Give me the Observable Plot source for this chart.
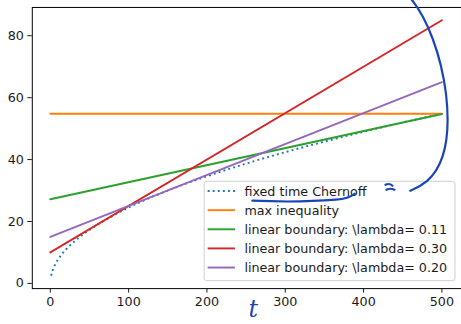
<!DOCTYPE html>
<html>
<head>
<meta charset="utf-8">
<script src="https://cdn.jsdelivr.net/npm/d3@7"></script>
<script src="https://cdn.jsdelivr.net/npm/@observablehq/plot@0.6"></script>
<style>
  html, body { margin: 0; padding: 0; background: #fff; }
  #chart { position: relative; width: 461px; height: 324px; overflow: hidden; }
</style>
</head>
<body>
<div id="chart"></div>
<script>
// ---- data ----
const tCurve   = [1, 3, 6, 10, 15, 20, 30, 40, 50, 65, 80, 100, 125, 150, 175, 200, 250, 300, 350, 400, 450, 500];
const chernoff = [2.45, 4.24, 6.0, 7.75, 9.49, 10.95, 13.4, 15.5, 17.3, 19.7, 21.9, 24.5, 27.4, 30.0, 32.4, 34.6, 38.7, 42.4, 45.8, 49.0, 52.0, 54.8];
const tEnds    = [0, 500];
const maxIneq  = [54.77, 54.77];
const lin011   = [27.2, 54.7];
const lin030   = [10.0, 85.0];
const lin020   = [15.0, 65.0];
const seriesNames = [
  "fixed time Chernoff",
  "max inequality",
  "linear boundary: \\lambda= 0.11",
  "linear boundary: \\lambda= 0.30",
  "linear boundary: \\lambda= 0.20"
];
const seriesColors = ["#1f77b4", "#ff7f0e", "#2ca02c", "#d62728", "#9467bd"];
const xTicks = [0, 100, 200, 300, 400, 500];
const yTicks = [0, 20, 40, 60, 80];

// ---- build tables ----
const curveRows = tCurve.map((t, i) => ({t, v: chernoff[i]}));
const endRows = vals => tEnds.map((t, i) => ({t, v: vals[i]}));
const straight = [maxIneq, lin011, lin030, lin020];

const LW = 1.93;
const FS = "12.8px";
const DASH = `${LW},${(LW*1.65).toFixed(2)}`;

const plot = Plot.plot({
  width: 464,
  height: 324,
  marginLeft: 32,
  marginRight: 0,
  marginTop: 7,
  marginBottom: 34,
  style: {fontFamily: "DejaVu Sans", fontSize: FS, color: "#1a1a1a", background: "#fff"},
  x: {domain: [-23, 525], ticks: xTicks, label: null, tickSize: 4.5, tickPadding: 4},
  y: {domain: [-1.68, 89.13], ticks: yTicks, label: null, tickSize: 4.5, tickPadding: 4},
  marks: [
    Plot.line(curveRows, {x: "t", y: "v", stroke: seriesColors[0], strokeWidth: LW,
      strokeDasharray: DASH, strokeLinecap: "butt", curve: "monotone-x"}),
    ...straight.map((vals, k) => Plot.line(endRows(vals), {x: "t", y: "v",
      stroke: seriesColors[k + 1], strokeWidth: LW})),
    Plot.frame({stroke: "#000", strokeWidth: 1}),
    Plot.axisX({ticks: xTicks, tickSize: 4.5, tickPadding: 4, label: null, fontSize: FS}),
    Plot.axisY({ticks: yTicks, tickSize: 4.5, tickPadding: 4, label: null, fontSize: FS})
  ]
});
document.getElementById("chart").appendChild(plot);

// ---- legend (matplotlib style box) ----
const svg = d3.select(plot);
const lg = svg.append("g").attr("font-family", "DejaVu Sans").attr("font-size", FS)
  .attr("text-anchor", "start");
lg.append("rect")
  .attr("x", 205.5).attr("y", 182.5).attr("width", 252.5).attr("height", 100)
  .attr("rx", 2.5).attr("fill", "#fff").attr("fill-opacity", 0.8)
  .attr("stroke", "#d0d0d0").attr("stroke-width", 1);
seriesNames.forEach((name, i) => {
  const cy = 192.3 + i * 19.25;
  lg.append("line")
    .attr("x1", 209).attr("x2", 236.5).attr("y1", cy).attr("y2", cy)
    .attr("stroke", seriesColors[i]).attr("stroke-width", LW)
    .attr("stroke-dasharray", i === 0 ? DASH : null);
  lg.append("text")
    .attr("x", 246).attr("y", cy).attr("dy", "0.36em")
    .attr("text-anchor", "start")
    .attr("fill", "#1a1a1a").text(name);
});

// ---- hand-drawn annotations in blue ink ----
const ink = "#1a45b8";
const an = svg.append("g").attr("fill", "none").attr("stroke", ink)
  .attr("stroke-width", 2.2).attr("stroke-linecap", "round");
an.append("path").attr("d",
  "M413,-2 C430,18 444,55 449,95 C454,140 446,168 430,182 C424,187 418,190 413,192");
an.append("path").attr("d", "M388,186 Q392,184 395,187");
an.append("path").attr("d", "M389,191 Q393,189 397,191");
an.append("path").attr("d", "M254,202 Q300,204 338,201 Q351,200 357,195");
svg.append("text")
  .attr("x", 255).attr("y", 319).attr("text-anchor", "middle")
  .attr("font-family", "DejaVu Serif").attr("font-style", "italic")
  .attr("font-size", "24px").attr("fill", ink).text("t");
</script>
</body>
</html>
